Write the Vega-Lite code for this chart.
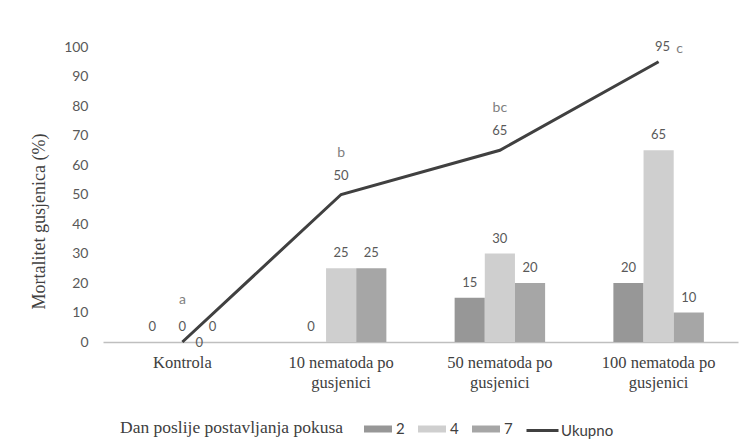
{
  "$schema": "https://vega.github.io/schema/vega-lite/v6.json",
  "width": 635,
  "height": 295,
  "autosize": {"type": "none"},
  "padding": {"left": 103, "top": 47, "right": 2, "bottom": 103},
  "background": "white",
  "config": {"view": {"stroke": null}, "font": "Lato"},
  "datasets": {
    "bars": [
      {"grupa": "Kontrola", "dan": "2", "postotak": 0},
      {"grupa": "Kontrola", "dan": "4", "postotak": 0},
      {"grupa": "Kontrola", "dan": "7", "postotak": 0},
      {"grupa": "10 nematoda po gusjenici", "dan": "2", "postotak": 0},
      {"grupa": "10 nematoda po gusjenici", "dan": "4", "postotak": 25},
      {"grupa": "10 nematoda po gusjenici", "dan": "7", "postotak": 25},
      {"grupa": "50 nematoda po gusjenici", "dan": "2", "postotak": 15},
      {"grupa": "50 nematoda po gusjenici", "dan": "4", "postotak": 30},
      {"grupa": "50 nematoda po gusjenici", "dan": "7", "postotak": 20},
      {"grupa": "100 nematoda po gusjenici", "dan": "2", "postotak": 20},
      {"grupa": "100 nematoda po gusjenici", "dan": "4", "postotak": 65},
      {"grupa": "100 nematoda po gusjenici", "dan": "7", "postotak": 10}
    ],
    "ukupno": [
      {"grupa": "Kontrola", "postotak": 0, "oznaka": "a"},
      {"grupa": "10 nematoda po gusjenici", "postotak": 50, "oznaka": "b"},
      {"grupa": "50 nematoda po gusjenici", "postotak": 65, "oznaka": "bc"},
      {"grupa": "100 nematoda po gusjenici", "postotak": 95, "oznaka": "c"}
    ]
  },
  "encoding": {
    "x": {
      "field": "grupa",
      "type": "nominal",
      "sort": ["Kontrola", "10 nematoda po gusjenici", "50 nematoda po gusjenici", "100 nematoda po gusjenici"],
      "scale": {"paddingInner": 0.43, "paddingOuter": 0.215},
      "axis": {
        "title": null,
        "labelAngle": 0,
        "labelExpr": "datum.label == 'Kontrola' ? 'Kontrola' : [replace(datum.label, ' gusjenici', ''), 'gusjenici']",
        "labelFont": "Liberation Serif",
        "labelFontSize": 16.5,
        "labelColor": "#404040",
        "labelLineHeight": 20,
        "labelPadding": 12,
        "ticks": false,
        "domainColor": "#bfbfbf",
        "domainWidth": 1.5,
        "grid": false
      }
    },
    "y": {
      "field": "postotak",
      "type": "quantitative",
      "scale": {"domain": [0, 100]},
      "axis": {
        "title": "Mortalitet gusjenica (%)",
        "titleFont": "Liberation Serif",
        "titleFontSize": 18,
        "titleFontWeight": "normal",
        "titleColor": "#404040",
        "titleX": -55,
        "titleY": 174,
        "values": [0, 10, 20, 30, 40, 50, 60, 70, 80, 90, 100],
        "labelFontSize": 14,
        "labelColor": "#595959",
        "labelPadding": 15,
        "domain": false,
        "ticks": false,
        "grid": false
      }
    }
  },
  "layer": [
    {
      "data": {"name": "bars"},
      "mark": {"type": "bar"},
      "encoding": {
        "xOffset": {"field": "dan", "type": "nominal", "scale": {"paddingInner": 0, "paddingOuter": 0}},
        "fill": {
          "field": "dan",
          "type": "nominal",
          "scale": {"domain": ["2", "4", "7"], "range": ["#979797", "#cfcfcf", "#a6a6a6"]},
          "legend": {
            "title": "Dan poslije postavljanja pokusa",
            "orient": "none",
            "legendX": 17,
            "legendY": 372,
            "direction": "horizontal",
            "titleOrient": "left",
            "titleFont": "Liberation Serif",
            "titleFontSize": 17.5,
            "titleFontWeight": "normal",
            "titleColor": "#404040",
            "titleLimit": 400,
            "titlePadding": 24,
            "labelFontSize": 15,
            "labelColor": "#404040",
            "labelOffset": 8,
            "columnPadding": 13,
            "symbolType": "M-1.4,-0.35H1.4V0.35H-1.4Z",
            "symbolSize": 400,
            "symbolStrokeWidth": 0
          }
        }
      }
    },
    {
      "data": {"name": "bars"},
      "mark": {"type": "text", "baseline": "middle", "dy": -15, "fontSize": 13, "color": "#595959"},
      "encoding": {
        "xOffset": {"field": "dan", "type": "nominal", "scale": {"paddingInner": 0, "paddingOuter": 0}},
        "text": {"field": "postotak", "type": "quantitative"}
      }
    },
    {
      "data": {"name": "ukupno"},
      "mark": {"type": "line", "strokeWidth": 3},
      "encoding": {
        "stroke": {
          "datum": "Ukupno",
          "scale": {"domain": ["Ukupno"], "range": ["#404040"]},
          "legend": {
            "title": null,
            "orient": "none",
            "legendX": 428,
            "legendY": 372,
            "direction": "horizontal",
            "labelFontSize": 15,
            "labelColor": "#404040",
            "labelOffset": 7,
            "symbolType": "M-1.6,0H1.6",
            "symbolSize": 400,
            "symbolStrokeWidth": 3
          }
        }
      }
    },
    {
      "data": {"name": "ukupno"},
      "transform": [{"filter": "datum.postotak > 0 && datum.oznaka != 'c'"}],
      "mark": {"type": "text", "baseline": "middle", "dy": -19, "fontSize": 13, "color": "#595959"},
      "encoding": {"text": {"field": "postotak", "type": "quantitative"}}
    },
    {
      "data": {"name": "ukupno"},
      "transform": [{"filter": "datum.oznaka == 'c'"}],
      "mark": {"type": "text", "baseline": "middle", "dx": 4, "dy": -15, "fontSize": 13, "color": "#595959"},
      "encoding": {"text": {"field": "postotak", "type": "quantitative"}}
    },
    {
      "data": {"name": "ukupno"},
      "transform": [{"filter": "datum.postotak == 0"}],
      "mark": {"type": "text", "baseline": "middle", "dx": 17, "dy": 1, "fontSize": 13, "color": "#595959"},
      "encoding": {"text": {"field": "postotak", "type": "quantitative"}}
    },
    {
      "data": {"name": "ukupno"},
      "transform": [{"filter": "datum.oznaka != 'c'"}],
      "mark": {"type": "text", "baseline": "middle", "dy": -42, "fontSize": 14, "color": "#7f7f7f"},
      "encoding": {"text": {"field": "oznaka", "type": "nominal"}}
    },
    {
      "data": {"name": "ukupno"},
      "transform": [{"filter": "datum.oznaka == 'c'"}],
      "mark": {"type": "text", "baseline": "middle", "dx": 21, "dy": -13, "fontSize": 14, "color": "#7f7f7f"},
      "encoding": {"text": {"field": "oznaka", "type": "nominal"}}
    }
  ]
}
